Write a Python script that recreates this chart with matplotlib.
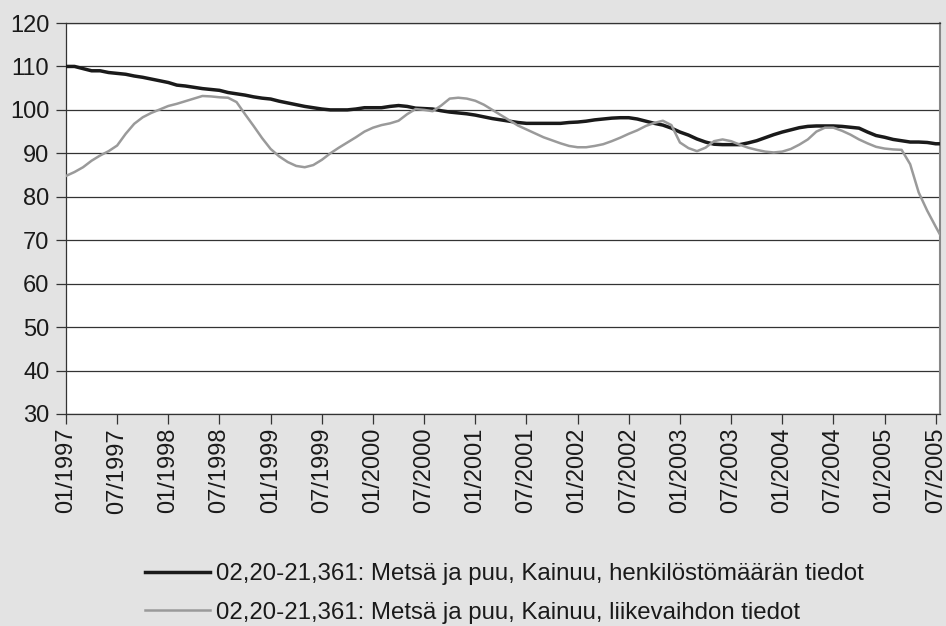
import matplotlib
matplotlib.use("Agg")
import matplotlib.pyplot as plt
import numpy as np

plt.rcParams['font.family'] = ['Liberation Sans', 'DejaVu Sans']

# Monthly data 01/1997 - 08/2005
henkilosto = [
    110.0, 110.0, 109.5, 109.0, 109.0, 108.6, 108.4, 108.2, 107.8, 107.5,
    107.1, 106.7, 106.3, 105.7, 105.5, 105.2, 104.9, 104.7, 104.5, 104.0,
    103.7, 103.4, 103.0, 102.7, 102.5, 102.0, 101.6, 101.2, 100.8, 100.5,
    100.2, 100.0, 100.0, 100.0, 100.2, 100.5, 100.5, 100.5, 100.8, 101.0,
    100.8, 100.4, 100.3, 100.2, 99.8, 99.5, 99.3, 99.1, 98.8, 98.4,
    98.0, 97.7, 97.4, 97.1, 96.9, 96.9, 96.9, 96.9, 96.9, 97.1,
    97.2, 97.4, 97.7, 97.9, 98.1, 98.2, 98.2, 97.9, 97.4, 96.9,
    96.5, 95.8, 94.9, 94.2, 93.3, 92.6, 92.1, 92.0, 92.0, 92.0,
    92.4, 92.9, 93.6, 94.3, 94.9, 95.4, 95.9, 96.2, 96.3, 96.3,
    96.3, 96.2, 96.0, 95.8, 94.9, 94.1, 93.7, 93.2, 92.9, 92.6,
    92.6, 92.5, 92.2, 92.2,
]
liikevaihto = [
    84.8, 85.7, 86.8, 88.3, 89.5, 90.5, 91.8, 94.5, 96.8, 98.3,
    99.3, 100.1, 100.9, 101.4, 102.0, 102.6, 103.2, 103.1, 102.9, 102.8,
    101.8, 99.0, 96.3, 93.5, 91.0, 89.3, 88.0, 87.1, 86.8, 87.3,
    88.5, 90.0, 91.3, 92.5, 93.7, 95.0, 95.9, 96.5, 96.9, 97.5,
    99.0, 100.2, 100.0, 99.7, 101.0, 102.6, 102.8, 102.6, 102.1, 101.2,
    100.0, 98.8, 97.6, 96.4, 95.5, 94.6, 93.7, 93.0, 92.3, 91.7,
    91.4, 91.4, 91.7, 92.1, 92.8, 93.6, 94.5, 95.3, 96.3, 97.0,
    97.5, 96.5, 92.5, 91.2, 90.5, 91.3, 92.8, 93.2, 92.8, 92.0,
    91.3, 90.8, 90.4, 90.2, 90.4, 91.0, 92.0, 93.2, 95.0, 95.9,
    95.9, 95.2, 94.3, 93.2, 92.3, 91.5, 91.1, 90.9, 90.8, 87.5,
    81.0, 76.8, 73.1, 69.5,
]
tick_labels = ["01/1997", "07/1997", "01/1998", "07/1998", "01/1999", "07/1999",
               "01/2000", "07/2000", "01/2001", "07/2001", "01/2002", "07/2002",
               "01/2003", "07/2003", "01/2004", "07/2004", "01/2005", "07/2005"]
y_ticks = [30, 40, 50, 60, 70, 80, 90, 100, 110, 120]
labels = ["02,20-21,361: Metsä ja puu, Kainuu, henkilöstömäärän tiedot",
          "02,20-21,361: Metsä ja puu, Kainuu, liikevaihdon tiedot"]

bg = '#e3e3e3'
fs = 17
fig = plt.figure(figsize=(9.46, 6.26), dpi=100, facecolor=bg)
ax = fig.add_axes([66/946, 1-414/626, (940-66)/946, (414-23)/626])
ax.set_facecolor('white')

x = np.arange(len(henkilosto))
l1, = ax.plot(x, henkilosto, color='#1a1a1a', lw=2.5, solid_joinstyle='round', zorder=3)
l2, = ax.plot(x, liikevaihto, color='#9a9a9a', lw=1.8, solid_joinstyle='round', zorder=3)

ax.set_xlim(0, 102.5)
ax.set_ylim(30, 120)
ax.set_yticks(y_ticks)
ax.set_yticklabels([str(v) for v in y_ticks], fontsize=fs, color='#1a1a1a')
ax.set_xticks(np.arange(0, 6*len(tick_labels), 6))
ax.set_xticklabels(tick_labels, rotation=90, fontsize=fs, color='#1a1a1a')
ax.yaxis.grid(True, color='#333333', lw=0.9)
ax.set_axisbelow(True)
ax.tick_params(axis='y', direction='out', length=7, width=0.9, color='#333333', pad=5)
ax.tick_params(axis='x', direction='out', length=7, width=0.9, color='#333333', pad=3)
for s in ['left', 'bottom', 'top']:
    ax.spines[s].set_color('#333333')
    ax.spines[s].set_linewidth(0.9)
ax.spines['right'].set_color('#888888')
ax.spines['right'].set_linewidth(1.5)

fig.legend([l1, l2], labels, loc='upper left', bbox_to_anchor=(145/946, 1-563/626),
           frameon=False, fontsize=17.3, handlelength=2.7, handletextpad=0.25,
           labelspacing=0.7, labelcolor='#1a1a1a', borderaxespad=0, borderpad=0)

fig.savefig('out.png', dpi=100, facecolor=bg)
